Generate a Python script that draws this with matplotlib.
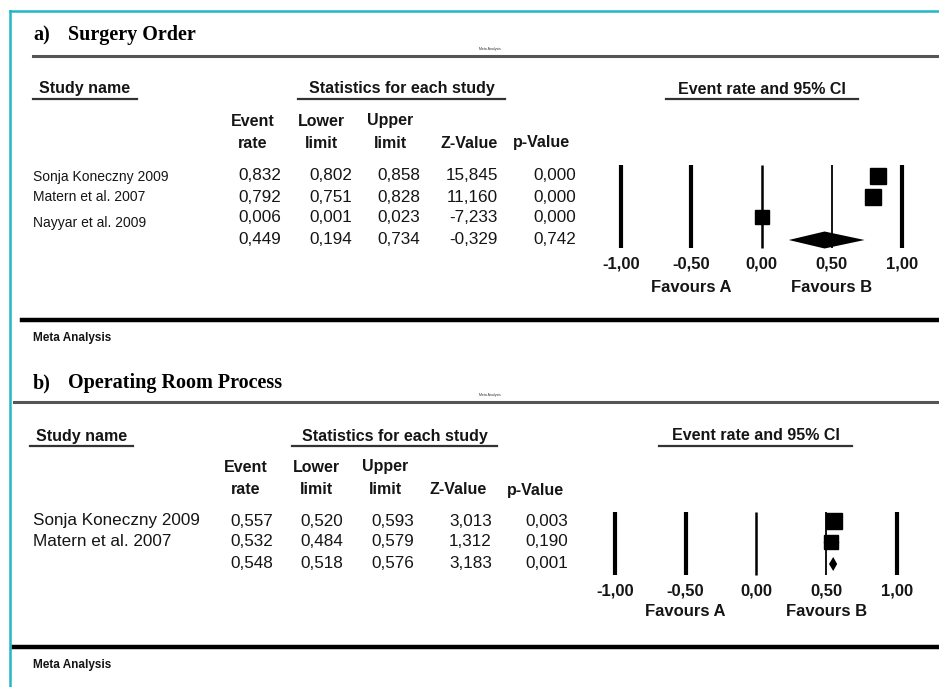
import matplotlib
matplotlib.use('Agg')
import matplotlib.pyplot as plt

W, H = 939, 687

# a) Surgery Order
a_names = ['Sonja Koneczny 2009', 'Matern et al. 2007', 'Nayyar et al. 2009']
a_rate = [0.832, 0.792, 0.006, 0.449]
a_lower = [0.802, 0.751, 0.001, 0.194]
a_upper = [0.858, 0.828, 0.023, 0.734]
a_z = [15.845, 11.160, -7.233, -0.329]
a_p = [0.000, 0.000, 0.000, 0.742]

# b) Operating Room Process
b_names = ['Sonja Koneczny 2009', 'Matern et al. 2007']
b_rate = [0.557, 0.532, 0.548]
b_lower = [0.520, 0.484, 0.518]
b_upper = [0.593, 0.579, 0.576]
b_z = [3.013, 1.312, 3.183]
b_p = [0.003, 0.190, 0.001]

tick_vals = [-1.0, -0.5, 0.0, 0.5, 1.0]
tick_labels = ['-1,00', '-0,50', '0,00', '0,50', '1,00']
col_heads = [('Event', 'rate'), ('Lower', 'limit'), ('Upper', 'limit'), ('', 'Z-Value'), ('', 'p-Value')]

SANS = 'Liberation Sans'
SERIF = 'Liberation Serif'
INK = '#151515'


def fmt(v):
    return '{:.3f}'.format(v).replace('.', ',')


def draw_forest(fig, box, rows, rate, lower, upper, sizes, line_top, line_bot, diam_h):
    # box = (left px, right px, top px, bottom px); x axis spans -1.1..1.1
    x0, x1, y0, y1 = box
    ax = fig.add_axes([x0 / W, 1 - y1 / H, (x1 - x0) / W, (y1 - y0) / H])
    ax.set_xlim(-1.1, 1.1)
    ax.set_ylim(y1, y0)
    ax.patch.set_alpha(0)
    for s in ax.spines.values():
        s.set_visible(False)
    ax.set_yticks([])
    ax.set_xticks(tick_vals, tick_labels)
    ax.tick_params(axis='x', length=0, pad=4.5)
    for t in ax.get_xticklabels():
        t.set_fontfamily(SANS)
        t.set_fontweight('bold')
        t.set_fontsize(12)
        t.set_color(INK)
    widths = [3.0, 3.0, 1.8, 1.3, 3.0]
    for v, lw in zip(tick_vals, widths):
        ax.plot([v, v], [line_top, line_bot], color='black', lw=lw, solid_capstyle='butt')
    n = len(rows) - 1
    for i in range(n):
        ax.plot([lower[i], upper[i]], [rows[i], rows[i]], color='black', lw=1)
        ax.plot(rate[i], rows[i], 's', ms=sizes[i], color='black')
    # pooled estimate
    yc = rows[-1]
    ax.fill([lower[-1], rate[-1], upper[-1], rate[-1]], [yc, yc - diam_h, yc, yc + diam_h],
            color='black', lw=0)
    return ax


fig = plt.figure(figsize=(W / 100, H / 100), dpi=100)
page = fig.add_axes([0, 0, 1, 1])
page.set_xlim(0, W)
page.set_ylim(H, 0)
page.axis('off')

# frame
page.plot([10, 10], [11, H], color='#22b6c6', lw=1.8)
page.plot([10, W], [11, 11], color='#22b6c6', lw=1.8)


def txt(x, y, s, size, weight='normal', ha='left', family=SANS, color=INK):
    page.text(x, y, s, fontsize=size, fontweight=weight, ha=ha, va='center',
              family=family, color=color)


def section(y_title, label, title, y_rule, title_rule_x0, y_head, underlines, cols_x, head_y,
            rows_y, names, name_y, name_size, columns, num_right, num_size, y_bottom_rule,
            rule_x0):
    txt(33, y_title, label, 14.5, 'bold', family=SERIF, color='black')
    txt(68, y_title, title, 14.5, 'bold', family=SERIF, color='black')
    page.plot([title_rule_x0, W], [y_rule, y_rule], color='#555555', lw=2.2)
    page.text(490, y_rule - 7, 'Meta Analysis', fontsize=2.5, ha='center', va='center',
              family=SANS, color='#333333')
    for (xa, xb, s) in underlines:
        txt((xa + xb) / 2, y_head, s, 11.5, 'bold', ha='center')
        page.plot([xa, xb], [y_head + 10, y_head + 10], color='#333333', lw=1.6)
    for x, (h1, h2) in zip(cols_x, col_heads):
        txt(x, head_y[0], h1, 11.5, 'bold', ha='center')
        txt(x, head_y[1], h2, 11.5, 'bold', ha='center')
    for s, y in zip(names, name_y):
        txt(33, y, s, name_size)
    for vals, xr in zip(columns, num_right):
        for v, y in zip(vals, rows_y):
            txt(xr, y, fmt(v), num_size, ha='right')
    page.plot([rule_x0, W], [y_bottom_rule, y_bottom_rule], color='black', lw=3.2)
    txt(33, y_bottom_rule + 18, 'Meta Analysis', 8.5, 'bold')


# panel a
a_rows = [176, 197, 217, 240]
section(35, 'a)', 'Surgery Order', 56, 33, 89,
        [(33, 137, 'Study name'), (298, 505, 'Statistics for each study'),
         (666, 858, 'Event rate and 95% CI')],
        [253, 321, 390, 469, 541], (121, 143), a_rows,
        a_names, [177, 197, 223], 10,
        [a_rate, a_lower, a_upper, a_z, a_p], [281, 352, 420, 498, 576], 12.3,
        320, 22)
axa = draw_forest(fig, (607, 916, 163, 250), a_rows, a_rate, a_lower, a_upper,
                  [11.5, 11, 10], 165, 248, 8.5)
axa.text(-0.5, 288, 'Favours A', ha='center', va='center', fontsize=12,
         fontweight='bold', family=SANS, color=INK)
axa.text(0.5, 288, 'Favours B', ha='center', va='center', fontsize=12,
         fontweight='bold', family=SANS, color=INK)

# panel b
b_rows = [521, 542, 564]
section(383, 'b)', 'Operating Room Process', 402, 14, 436,
        [(30, 133, 'Study name'), (292, 497, 'Statistics for each study'),
         (659, 852, 'Event rate and 95% CI')],
        [246, 316, 385, 458, 535], (467, 490), b_rows,
        b_names, [520, 542], 12.3,
        [b_rate, b_lower, b_upper, b_z, b_p], [273, 343, 414, 492, 568], 12.3,
        647, 14)
axb = draw_forest(fig, (601, 911, 510, 577), b_rows, b_rate, b_lower, b_upper,
                  [12, 9.5], 512, 575, 7)
axb.text(-0.5, 611, 'Favours A', ha='center', va='center', fontsize=12,
         fontweight='bold', family=SANS, color=INK)
axb.text(0.5, 611, 'Favours B', ha='center', va='center', fontsize=12,
         fontweight='bold', family=SANS, color=INK)

fig.savefig('out.png', dpi=100, facecolor='white')
